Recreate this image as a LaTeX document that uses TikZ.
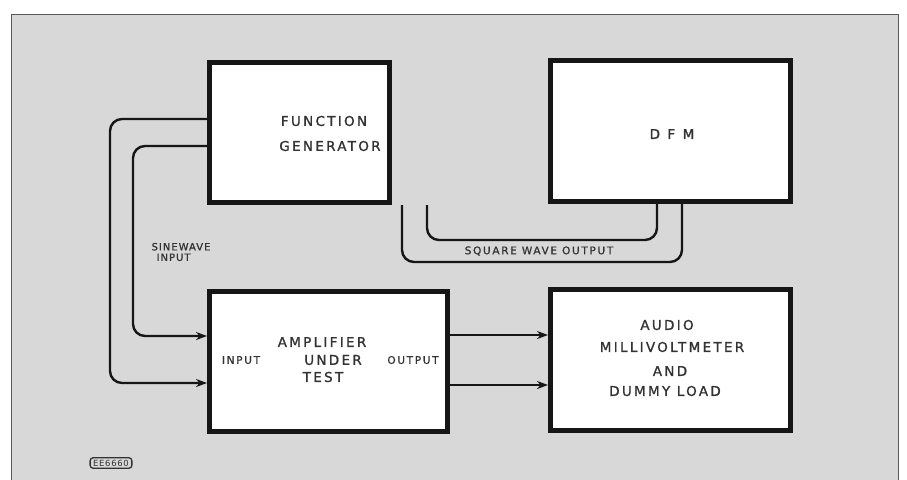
\documentclass[tikz,border=0pt]{standalone}
\usepackage{fontspec}
\setmainfont{DejaVu Sans}
\newfontfamily\bigf[LetterSpace=17,FakeBold=1.2]{DejaVu Sans}
\newfontfamily\dfmf[LetterSpace=55,FakeBold=1.2]{DejaVu Sans}
\newfontfamily\smallf[LetterSpace=16,FakeBold=1]{DejaVu Sans}
\newfontfamily\swf[LetterSpace=10,FakeBold=1]{DejaVu Sans}
\newfontfamily\codef[LetterSpace=8]{DejaVu Sans}
\usetikzlibrary{arrows.meta}
\definecolor{bgc}{HTML}{D8D8D8}
\definecolor{txt}{HTML}{333333}
\definecolor{ink}{HTML}{161616}
\begin{document}
\begin{tikzpicture}[x=1pt,y=-1pt,
  box/.style={draw=ink,line width=5pt,fill=white,inner sep=0pt},
  conn/.style={draw=ink,line width=2.4pt,rounded corners=12pt},
  arr/.style={conn,-{Stealth[length=11pt,width=8pt]}},
  big/.style={text=txt,font=\bigf\fontsize{13.5}{15}\selectfont,inner sep=0pt},
  small/.style={text=txt,font=\smallf\fontsize{10.5}{11}\selectfont,inner sep=0pt}]
\useasboundingbox (0,0) rectangle (907,479);
\fill[bgc] (11,14) rectangle (898,490);
\draw[gray!70!black,line width=0.8pt] (11,490) -- (11,14) -- (898,14) -- (898,490);
% boxes
\node[box,minimum width=180pt,minimum height=140pt] (fg) at (299.5,132.5) {};
\node[box,minimum width=240pt,minimum height=141pt] (dfm) at (670.5,131) {};
\node[box,minimum width=238pt,minimum height=140pt] (amp) at (328.5,361.5) {};
\node[box,minimum width=240pt,minimum height=141pt] (aud) at (670.5,360) {};
% box texts
\node[big] (t1) at (324,121) {FUNCTION};
\node[big] (t2) at (330,146) {GENERATOR};
\node[big,font=\dfmf\fontsize{13.5}{15}\selectfont] (t3) at (672,134) {DFM};
\node[big] (t4) at (322,342) {AMPLIFIER};
\node[big] (t5) at (333,360) {UNDER};
\node[big] (t6) at (323,377) {TEST};
\node[small] (t7) at (241,360) {INPUT};
\node[small] (t8) at (413,360) {OUTPUT};
\node[big] (t9) at (667,325) {AUDIO};
\node[big] (t10) at (672,347) {MILLIVOLTMETER};
\node[big] (t11) at (670,371) {AND};
\node[big] (t12) at (665,391) {DUMMY LOAD};
% sine wave connectors
\draw[arr] (fg.west |- 0,119) -- (110,119) -- (110,383) -- (amp.west |- 0,383);
\draw[arr] (fg.west |- 0,146) -- (133,146) -- (133,336) -- (amp.west |- 0,336);
\node[small,align=left,font=\swf\fontsize{10}{10.5}\selectfont] (sw) at (181,252) {SINEWAVE\\\hspace*{5pt}INPUT};
% square wave connectors
\draw[conn] (402,0 |- fg.south) -- (402,262) -- (682,262) -- (682,0 |- dfm.south);
\draw[conn] (427,0 |- fg.south) -- (427,240) -- (657,240) -- (657,0 |- dfm.south);
\node[small] (sq) at (539,251) {SQUARE WAVE OUTPUT};
% output connectors
\draw[arr] (amp.east |- 0,335) -- (aud.west |- 0,335);
\draw[arr] (amp.east |- 0,385) -- (aud.west |- 0,385);
% figure code
\node[draw=txt,line width=1.3pt,rounded corners=3pt,inner xsep=3pt,inner ysep=2pt,text=txt,
  font=\codef\fontsize{8.5}{9}\selectfont] (code) at (111,463) {EE6660};
\end{tikzpicture}
\end{document}
